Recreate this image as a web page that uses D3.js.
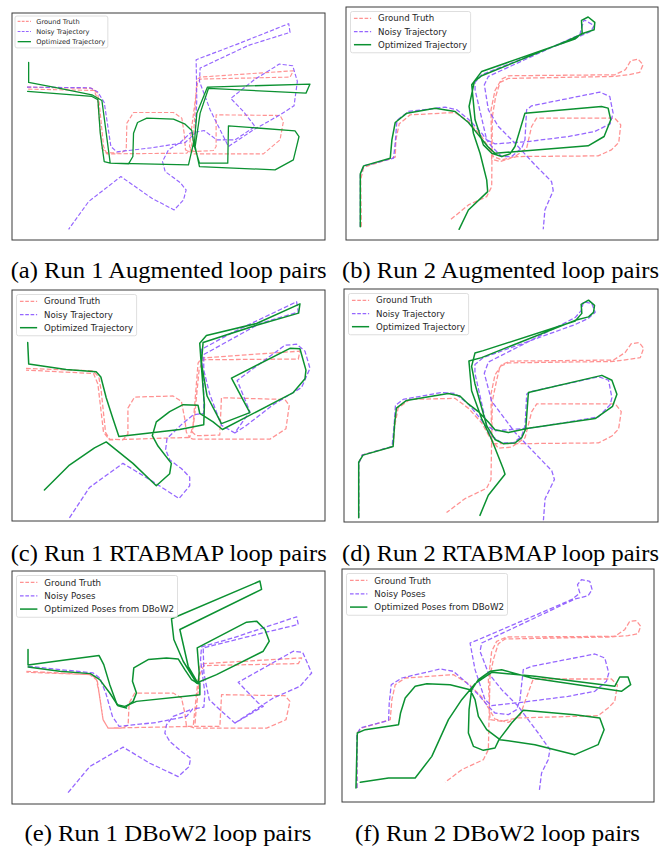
<!DOCTYPE html>
<html><head><meta charset="utf-8">
<script src="https://cdn.jsdelivr.net/npm/d3@7"></script>
<style>body{margin:0;background:#fff}svg{display:block}</style>
</head><body><svg id="fig" width="671" height="850"></svg>
<script>
// ---------------- DATA (trajectory points in each plot's own frame, y pointing down) ----------------
const captions = [
  "(a) Run 1 Augmented loop pairs", "(b) Run 2 Augmented loop pairs",
  "(c) Run 1 RTABMAP loop pairs", "(d) Run 2 RTABMAP loop pairs",
  "(e) Run 1 DBoW2 loop pairs", "(f) Run 2 DBoW2 loop pairs"
];
const labelsTrajectory = ["Ground Truth", "Noisy Trajectory", "Optimized Trajectory"];
const labelsPoses = ["Ground Truth", "Noisy Poses", "Optimized Poses from DBoW2"];

// Run 1 (augmented)
const gtRun1Aug = [[[80,262],[275,266],[292,280],[297,310],[310,440],[318,458],[360,460],[378,450],[380,370],[400,338],[520,338],[545,355],[552,400],[556,450],[570,456],[580,410],[590,240],[600,232],[880,213],[870,232],[600,238],[592,250],[575,380],[568,440],[580,455],[640,452],[648,440],[648,345],[840,347],[850,365],[840,420],[790,462],[580,462],[570,448],[560,460],[320,462],[305,445],[292,300],[282,272],[80,268]]];
const noisyRun1Aug = [[[80,262],[270,264],[292,276],[312,308],[332,440],[350,456],[452,444],[555,428],[585,400],[590,300],[588,180],[720,130],[866,72],[870,98],[745,137],[600,205],[598,245],[630,330],[685,440],[760,390],[840,345],[882,318],[892,245],[878,198],[838,193],[765,238],[692,296],[730,335],[765,380],[705,420],[650,420],[612,392],[570,400],[540,428],[505,450],[487,485],[495,515],[540,548],[558,570],[550,600],[522,630],[455,595],[362,530],[265,605],[205,688]]];
const optRun1Aug = [[[85,188],[85,248],[175,265],[275,285],[305,302],[318,400],[330,490],[385,492],[398,470],[400,400],[412,368],[440,355],[520,358],[555,373],[575,392],[582,440],[590,340],[622,262],[930,253],[918,280],[625,266],[600,340],[585,440],[598,500],[825,510],[880,480],[897,410],[885,393],[685,378],[683,490],[598,490],[580,430],[565,495],[330,490],[312,485],[300,400],[293,300],[275,290],[82,275]]];

// Run 2 (augmented)
const gtRun2Aug = [[[78,680],[76,540],[85,502],[180,472],[182,420],[192,372],[225,345],[360,338],[400,365],[440,410],[465,450],[475,470],[500,480],[540,470],[575,445],[590,380],[605,355],[840,355],[858,375],[852,428],[830,450],[790,468],[545,470],[495,485],[470,478],[468,330],[480,272],[500,238],[520,228],[840,225],[872,210],[888,183],[910,178],[925,195],[915,218],[880,225],[840,230],[520,236],[495,248],[482,290],[472,350],[470,560],[455,590],[400,615],[345,660]]];
const noisyRun2Aug = [[[75,680],[75,525],[85,498],[175,475],[180,430],[185,362],[220,335],[330,322],[365,330],[400,358],[440,400],[470,440],[500,470],[530,470],[560,445],[570,420],[575,330],[590,318],[795,277],[825,290],[835,340],[826,372],[780,395],[700,410],[580,425],[480,432],[455,420],[420,270],[420,248],[440,225],[730,112],[768,95],[778,78],[748,60],[740,85],[735,105],[700,120],[460,230],[448,255],[460,330],[490,380],[540,430],[600,495],[650,545],[655,572],[630,630],[625,688]]];
const optRun2Aug = [[[75,680],[75,522],[85,498],[165,475],[170,420],[180,368],[215,340],[300,325],[360,335],[400,368],[430,405],[458,440],[480,460],[760,438],[808,410],[828,360],[820,325],[800,320],[570,340],[555,390],[540,440],[525,462],[500,470],[470,460],[445,435],[420,360],[410,255],[440,215],[720,118],[742,100],[740,62],[760,52],[780,68],[778,90],[748,100],[700,122],[440,228],[418,245],[402,320],[415,400],[435,460],[455,540],[458,575],[400,630],[372,688]]];

// Run 1 (RTABMAP)
const gtRun1Rtab = [[[80,255],[280,262],[298,280],[305,320],[318,440],[330,460],[370,462],[385,445],[385,370],[405,338],[520,335],[545,350],[555,400],[560,440],[570,455],[580,420],[595,240],[605,225],[900,205],[895,228],[610,230],[598,260],[585,390],[578,440],[590,450],[660,448],[665,340],[855,345],[868,362],[858,430],[810,460],[580,460],[565,455],[330,462],[312,440],[295,300],[282,270],[80,260]]];
const noisyRun1Rtab = [[[210,688],[270,600],[370,530],[455,580],[538,632],[570,595],[570,570],[545,545],[510,520],[498,490],[502,458],[545,418],[580,390],[612,385],[612,330],[605,200],[700,150],[890,62],[895,92],[780,125],[612,215],[612,260],[630,330],[665,420],[705,442],[750,380],[712,290],[855,188],[890,185],[915,205],[930,255],[905,310],[820,360],[740,420],[705,442]]];
const optRun1Rtab = [[[85,180],[88,242],[200,258],[290,265],[304,280],[320,340],[340,400],[358,452],[450,442],[540,432],[612,418],[614,360],[605,250],[600,182],[620,160],[770,125],[900,68],[896,95],[770,130],[610,180],[605,240],[622,335],[665,415],[750,383],[695,283],[870,197],[900,198],[918,260],[915,285],[880,325],[668,432],[640,410],[600,385],[595,362],[550,360],[510,380],[470,410],[458,450],[475,480],[515,530],[510,560],[470,595],[400,530],[320,468],[285,485],[210,535],[135,607]]];

// Run 2 (RTABMAP)
const gtRun2Rtab = [[[72,685],[72,530],[82,505],[175,480],[180,420],[190,370],[225,345],[360,342],[400,370],[440,412],[465,455],[490,485],[530,482],[570,455],[590,380],[605,358],[840,358],[858,380],[850,430],[830,450],[790,470],[560,472],[470,472],[468,330],[480,275],[500,245],[525,235],[835,232],[870,210],[888,185],[912,182],[925,198],[915,225],[880,230],[835,236],[520,240],[495,250],[485,290],[472,350],[468,575],[455,600],[390,630],[335,670]]];
const noisyRun2Rtab = [[[72,685],[72,530],[82,505],[172,480],[178,420],[182,362],[205,345],[320,325],[360,328],[400,358],[440,405],[470,450],[500,470],[535,470],[560,450],[570,420],[575,330],[590,322],[790,280],[820,290],[830,340],[825,360],[790,395],[700,410],[580,428],[480,435],[455,420],[420,270],[420,245],[445,225],[720,130],[760,112],[780,95],[770,70],[745,65],[738,90],[720,110],[690,125],[460,238],[448,270],[470,350],[540,440],[600,500],[650,550],[658,575],[630,630],[625,692]]];
const optRun2Rtab = [[[72,685],[72,525],[85,505],[175,480],[180,410],[185,370],[215,348],[340,328],[375,335],[400,358],[430,380],[460,410],[480,432],[520,440],[580,428],[780,400],[832,365],[845,330],[830,290],[800,276],[580,325],[572,430],[560,455],[540,470],[505,472],[480,460],[455,420],[420,300],[410,250],[420,212],[445,205],[720,120],[740,98],[738,72],[760,60],[778,75],[775,95],[760,108],[720,118],[440,225],[402,235],[410,320],[440,400],[470,460],[505,545],[510,560],[460,620],[435,678]]];

// Run 1 (DBoW2)
const gtRun1Dbow = [[[80,335],[270,345],[290,360],[298,400],[310,480],[325,505],[370,505],[385,495],[388,430],[405,400],[520,400],[545,415],[555,460],[560,500],[580,500],[590,400],[600,320],[612,312],[905,295],[895,312],[612,318],[600,345],[588,460],[585,500],[660,500],[665,405],[855,408],[870,425],[858,480],[800,505],[585,505],[570,500],[325,505],[310,480],[292,360],[275,345],[80,338]]];
const noisyRun1Dbow = [
  [[205,698],[270,620],[370,562],[450,610],[535,650],[568,620],[572,595],[545,575],[510,545],[495,520],[500,495],[520,470],[578,448]],
  [[85,320],[280,340],[300,355],[318,400],[338,470],[358,500],[470,488],[560,470],[578,448],[612,442],[615,400],[602,300],[605,262],[700,235],[890,172],[895,195],[790,220],[610,265],[612,340],[628,420],[660,450],[705,490],[790,440],[775,430],[715,368],[880,275],[908,278],[935,340],[900,380],[820,415],[705,490]]
];
const optRun1Dbow = [
  [[85,270],[85,316],[190,302],[298,288],[312,315],[330,375],[352,435],[375,440],[410,425],[600,405],[600,370],[590,368]],
  [[85,322],[180,335],[272,342],[300,360],[330,400],[355,438],[380,445]],
  [[380,440],[400,425],[410,400],[398,365],[402,325],[445,300],[500,295],[535,298],[555,330],[575,360],[595,372]],
  [[595,372],[565,320],[540,210],[785,90],[780,65],[515,178],[522,240],[550,305],[590,370],[650,345],[790,275],[808,245],[795,210],[770,185],[740,188],[592,265],[598,340],[595,372]]
];

// Run 2 (DBoW2)
const gtRun2Dbow = [[[65,685],[65,520],[80,505],[165,480],[170,420],[180,375],[210,355],[355,345],[400,372],[440,412],[460,445],[480,478],[520,488],[555,468],[585,385],[595,358],[830,358],[848,376],[840,425],[820,445],[790,468],[545,475],[500,485],[465,480],[460,360],[470,275],[485,245],[515,232],[840,230],[870,210],[885,185],[905,183],[918,200],[910,222],[880,228],[820,232],[510,238],[490,252],[475,300],[465,350],[460,570],[445,600],[380,630],[330,668]]];
const noisyRun2Dbow = [[[65,685],[65,525],[75,505],[160,482],[162,430],[168,375],[200,355],[315,328],[355,335],[395,370],[430,405],[460,440],[480,460],[520,465],[545,450],[555,420],[565,330],[590,320],[780,283],[810,295],[822,340],[815,365],[780,395],[700,410],[560,428],[470,438],[450,420],[420,330],[405,250],[430,240],[710,120],[735,100],[728,75],[740,60],[765,65],[772,90],[760,108],[720,118],[440,250],[435,275],[460,340],[500,390],[550,440],[610,520],[645,570],[640,600],[620,640],[613,695]]];
const optRun2Dbow = [[[62,685],[66,520],[90,510],[190,495],[196,460],[210,415],[240,380],[275,372],[345,375],[405,390],[420,420],[430,470],[455,510],[495,540],[600,555],[720,585],[790,555],[808,510],[795,475],[720,465],[565,452],[530,490],[492,540],[480,565],[445,572],[415,560],[400,520],[402,450],[410,390],[430,360],[465,335],[500,330],[590,355],[860,395],[888,375],[880,352],[855,352],[840,380],[600,350],[470,338],[420,372],[380,420],[340,480],[290,590],[240,655],[160,655],[75,668]]];

// ---------------- LAYOUT & STYLE ----------------
const panels = [
  {caption: captions[0], labels: labelsTrajectory, gt: gtRun1Aug,  noisy: noisyRun1Aug,  opt: optRun1Aug},
  {caption: captions[1], labels: labelsTrajectory, gt: gtRun2Aug,  noisy: noisyRun2Aug,  opt: optRun2Aug},
  {caption: captions[2], labels: labelsTrajectory, gt: gtRun1Rtab, noisy: noisyRun1Rtab, opt: optRun1Rtab},
  {caption: captions[3], labels: labelsTrajectory, gt: gtRun2Rtab, noisy: noisyRun2Rtab, opt: optRun2Rtab},
  {caption: captions[4], labels: labelsPoses,      gt: gtRun1Dbow, noisy: noisyRun1Dbow, opt: optRun1Dbow},
  {caption: captions[5], labels: labelsPoses,      gt: gtRun2Dbow, noisy: noisyRun2Dbow, opt: optRun2Dbow}
];
const layout = [
  {box:[12,13,325,240],  frame:[35,40,975,720],  fs:6.65, pad:3,   cap:[10.7,278,316], lw:1.3},
  {box:[346,7,658,240],  frame:[32,22,970,720],  fs:8.6,  pad:4.5, cap:[342,278,317],  lw:1.5},
  {box:[12,290,325,521], frame:[38,28,975,697],  fs:8.6,  pad:4.5, cap:[10.7,561,316], lw:1.5},
  {box:[344,289,658,522],frame:[28,28,968,697],  fs:8.6,  pad:4.5, cap:[342,561,317],  lw:1.5},
  {box:[12,571,325,804], frame:[37,35,975,732],  fs:8.7,  pad:4.5, cap:[24.4,841,287], lw:1.5},
  {box:[342,569,654,802],frame:[20,28,958,727],  fs:8.7,  pad:4.5, cap:[355,841,285],  lw:1.5}
];
const styles = {
  gt:    {stroke:"#ff6e6e", opacity:0.75, dash:true},
  noisy: {stroke:"#8a55ff", opacity:0.9,  dash:true},
  opt:   {stroke:"#0b9131", opacity:1,    dash:false}
};
const keys = ["gt","noisy","opt"];

const svg = d3.select("#fig");
svg.append("rect").attr("width",671).attr("height",850).attr("fill","#fff");
const defs = svg.append("defs");

panels.forEach((p, i) => {
  const L = layout[i];
  const [bx0, by0, bx1, by1] = L.box;
  const x = d3.scaleLinear().domain([L.frame[0], L.frame[2]]).range([bx0, bx1]);
  const y = d3.scaleLinear().domain([L.frame[1], L.frame[3]]).range([by0, by1]);
  const line = d3.line().x(d => x(d[0])).y(d => y(d[1])).curve(d3.curveLinear);

  defs.append("clipPath").attr("id", "clip" + i)
    .append("rect").attr("x", bx0).attr("y", by0).attr("width", bx1 - bx0).attr("height", by1 - by0);

  const g = svg.append("g").attr("clip-path", `url(#clip${i})`);
  const dashW = Math.max(1.15, L.lw * 0.85);
  const dashPattern = `${(dashW * 3.7).toFixed(2)},${(dashW * 1.7).toFixed(2)}`;
  keys.forEach(k => {
    const st = styles[k];
    p[k].forEach(seg => {
      g.append("path").attr("d", line(seg))
        .attr("fill", "none").attr("stroke", st.stroke).attr("stroke-opacity", st.opacity)
        .attr("stroke-width", k === "opt" ? L.lw : dashW)
        .attr("stroke-linejoin", "round").attr("stroke-linecap", st.dash ? "butt" : "round")
        .attr("stroke-dasharray", st.dash ? dashPattern : null);
    });
  });

  // axes frame
  svg.append("rect").attr("x", bx0).attr("y", by0).attr("width", bx1 - bx0).attr("height", by1 - by0)
    .attr("fill", "none").attr("stroke", "#3a3a3a").attr("stroke-width", 1);

  // legend
  const fs = L.fs;
  const lg = svg.append("g").attr("transform", `translate(${bx0 + L.pad},${by0 + L.pad})`);
  const frameRect = lg.append("rect").attr("rx", 2).attr("ry", 2)
    .attr("fill", "#fff").attr("fill-opacity", 0.85).attr("stroke", "#d6d6d6").attr("stroke-width", 0.8);
  let maxW = 0;
  p.labels.forEach((lab, j) => {
    const cy = fs * (0.8 + 1.53 * j);
    const st = styles[keys[j]];
    lg.append("line").attr("x1", fs * 0.4).attr("x2", fs * 2.4).attr("y1", cy).attr("y2", cy)
      .attr("stroke", st.stroke).attr("stroke-opacity", st.opacity)
      .attr("stroke-width", keys[j] === "opt" ? L.lw : dashW)
      .attr("stroke-dasharray", st.dash ? `${(fs*0.42).toFixed(2)},${(fs*0.2).toFixed(2)}` : null);
    const t = lg.append("text").attr("x", fs * 3.2).attr("y", cy).attr("dy", "0.36em")
      .attr("font-family", "'DejaVu Sans', sans-serif").attr("font-size", fs).attr("fill", "#262626")
      .text(lab);
    maxW = Math.max(maxW, t.node().getComputedTextLength());
  });
  frameRect.attr("x", 0).attr("y", 0).attr("width", fs * 3.6 + maxW).attr("height", fs * 4.8);

  // caption
  svg.append("text").attr("x", L.cap[0]).attr("y", L.cap[1])
    .attr("font-family", "'Liberation Serif', 'Times New Roman', serif").attr("font-size", 24)
    .attr("fill", "#000").attr("textLength", L.cap[2]).attr("lengthAdjust", "spacingAndGlyphs")
    .text(p.caption);
});
</script>
</body></html>
